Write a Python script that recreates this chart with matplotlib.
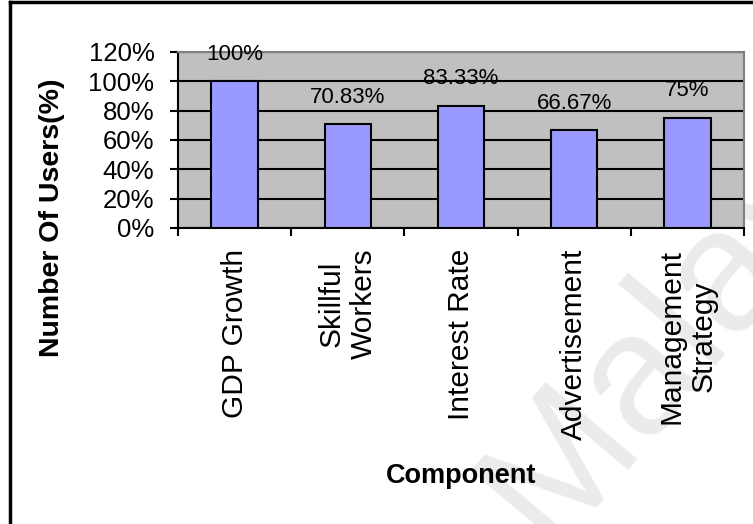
import matplotlib.pyplot as plt
from matplotlib.lines import Line2D

plt.rcParams['font.family'] = ['Liberation Sans', 'DejaVu Sans']

components = ["GDP Growth", "Skillful\nWorkers", "Interest Rate", "Advertisement", "Management\nStrategy"]
users_pct = [100, 70.83, 83.33, 66.67, 75]
value_labels = ["100%", "70.83%", "83.33%", "66.67%", "75%"]
y_ticks = [0, 20, 40, 60, 80, 100, 120]

fig = plt.figure(figsize=(7.53, 5.24), dpi=100)
ax = fig.add_axes([0.2364, 0.5649, 0.7517, 0.3359])
ax.set_facecolor('#c0c0c0')

x = list(range(len(components)))
ax.bar(x, users_pct, width=0.41, color='#9999ff', edgecolor='black', linewidth=1.5, zorder=3)

# value labels sit a fixed distance above each bar
for xi, v, lab in zip(x, users_pct, value_labels):
    ax.annotate(lab, (xi, v), xytext=(0, 15.5), textcoords='offset points',
                ha='center', va='baseline', fontsize=16, zorder=4)

ax.set_xlim(-0.5, len(components) - 0.5)
ax.set_ylim(0, 120)
ax.set_yticks(y_ticks)
ax.set_yticklabels([f"{t}%" for t in y_ticks])
ax.yaxis.grid(True, color='black', linewidth=1.5, zorder=1)
ax.set_axisbelow(True)

# ticks on category boundaries, labels on category centres
ax.set_xticks([i - 0.5 for i in range(len(components) + 1)])
ax.set_xticklabels([])
ax.set_xticks(x, minor=True)
ax.set_xticklabels(components, minor=True, rotation=90, ha='center', va='top',
                   fontsize=21.5, linespacing=1.2)
ax.tick_params(axis='x', which='major', length=6, width=1.5, direction='out')
ax.tick_params(axis='x', which='minor', length=0, pad=15)
ax.tick_params(axis='y', length=6, width=1.5, direction='out', labelsize=18.5, pad=11)

for side in ['left', 'bottom']:
    ax.spines[side].set_color('black')
    ax.spines[side].set_linewidth(1.5)
for side in ['top', 'right']:
    ax.spines[side].set_color('#808080')
    ax.spines[side].set_linewidth(1.5)

fig.text(52 / 753, 1 - 218 / 524, "Number Of Users(%)", rotation=90, ha='center', va='center',
         fontsize=20.5, fontweight='bold')
fig.text(461 / 753, 1 - 476 / 524, "Component", ha='center', va='center',
         fontsize=19.5, fontweight='bold')

# faint watermark
fig.text(0.60, -0.09, "Malaya", rotation=50, fontsize=125, color='#ebebeb',
         ha='left', va='bottom', zorder=-10)

# outer frame (left and top edges)
fig.add_artist(Line2D([10 / 753, 10 / 753], [0, 1 - 2 / 524], color='black', linewidth=2.5))
fig.add_artist(Line2D([10 / 753, 1], [1 - 2 / 524, 1 - 2 / 524], color='black', linewidth=2.5))

fig.savefig('out.png', dpi=100)
